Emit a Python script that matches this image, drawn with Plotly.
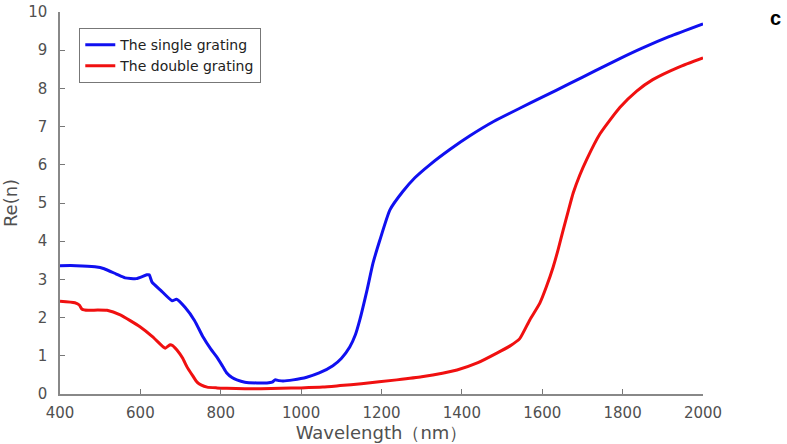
import plotly.graph_objects as go

# Wavelength samples (nm) and real part of the effective index for each structure
single_wl = [400, 440, 487, 510, 540, 562, 590, 616, 622, 629, 650, 679, 690, 711,
             735, 756, 775, 790, 805, 815, 828, 840, 860, 890, 915, 928, 935, 945,
             955, 980, 1014, 1045, 1079, 1100, 1121, 1135, 1146, 1164, 1179, 1196,
             1221, 1253, 1283, 1320, 1370, 1420, 1480, 1544, 1600, 1669, 1730,
             1793, 1850, 1917, 2000]
single_re = [3.36, 3.36, 3.33, 3.28, 3.14, 3.04, 3.02, 3.12, 3.12, 2.93, 2.72, 2.44,
             2.48, 2.27, 1.92, 1.49, 1.18, 0.97, 0.72, 0.55, 0.43, 0.37, 0.31, 0.29,
             0.29, 0.31, 0.37, 0.35, 0.34, 0.37, 0.44, 0.55, 0.74, 0.93, 1.23, 1.55,
             1.94, 2.72, 3.43, 4.03, 4.82, 5.3, 5.66, 6.0, 6.4, 6.76, 7.14, 7.48,
             7.77, 8.13, 8.45, 8.78, 9.06, 9.36, 9.69]

double_wl = [400, 437, 448, 455, 470, 494, 517, 550, 599, 630, 656, 662, 674, 680,
             691, 705, 716, 730, 741, 752, 766, 790, 815, 860, 900, 950, 1000, 1054,
             1097, 1150, 1238, 1300, 1388, 1440, 1487, 1520, 1544, 1569, 1594, 1610,
             1627, 1640, 1652, 1665, 1677, 1693, 1711, 1743, 1793, 1835, 1875,
             1940, 2000]
double_re = [2.43, 2.39, 2.33, 2.22, 2.19, 2.2, 2.19, 2.07, 1.76, 1.5, 1.24, 1.2,
             1.29, 1.27, 1.15, 0.94, 0.71, 0.48, 0.31, 0.23, 0.18, 0.16, 0.15, 0.14,
             0.14, 0.15, 0.16, 0.18, 0.22, 0.27, 0.37, 0.45, 0.63, 0.82, 1.07, 1.26,
             1.45, 1.94, 2.38, 2.8, 3.32, 3.8, 4.29, 4.8, 5.26, 5.72, 6.15, 6.8,
             7.5, 7.93, 8.23, 8.56, 8.8]

series_names = ["The single grating", "The double grating"]
series_colors = ["#1010f0", "#f01010"]

x_ticks = [400, 600, 800, 1000, 1200, 1400, 1600, 1800, 2000]
y_ticks = list(range(0, 11))

FONT = "DejaVu Sans, Liberation Sans, Arial, sans-serif"

fig = go.Figure()
for wl, re, name, color in [(single_wl, single_re, series_names[0], series_colors[0]),
                            (double_wl, double_re, series_names[1], series_colors[1])]:
    fig.add_trace(go.Scatter(
        x=wl, y=re, mode="lines", name=name,
        line=dict(color=color, width=3, shape="spline", smoothing=0.5),
    ))

axis_font = dict(family=FONT, size=15, color="#505050")

fig.update_layout(
    width=787, height=444,
    margin=dict(l=60, r=84, t=12, b=50, autoexpand=False),
    paper_bgcolor="white", plot_bgcolor="white",
    font=dict(family=FONT, color="#333333"),
    showlegend=True,
    legend=dict(
        x=0.03, y=0.958, xanchor="left", yanchor="top",
        bgcolor="white", bordercolor="#777777", borderwidth=1,
        font=dict(size=14, color="#222222"),
        tracegroupgap=0, itemwidth=30,
    ),
    xaxis=dict(
        range=[400, 2000], tickvals=x_ticks, ticks="inside", ticklen=5,
        tickcolor="#777777", showline=True, linecolor="#888888", linewidth=1.5,
        showgrid=False, zeroline=False, tickfont=axis_font, automargin=False,
        ticklabelstandoff=4,
        title=dict(text="Wavelength（nm）", font=dict(size=18, color="#505050"), standoff=2),
    ),
    yaxis=dict(
        range=[0, 10], tickvals=y_ticks, ticks="inside", ticklen=5,
        tickcolor="#777777", showline=True, linecolor="#888888", linewidth=1.5,
        showgrid=False, zeroline=False, tickfont=axis_font, automargin=False,
        ticklabelstandoff=8,
        title=dict(text="Re(n)", font=dict(size=18, color="#505050"), standoff=6),
    ),
    annotations=[dict(
        text="<b>c</b>", x=(775 - 60) / 643, y=(394 - 18) / 382,
        xref="paper", yref="paper", xanchor="center", yanchor="middle",
        showarrow=False, font=dict(size=20, color="black", family="Liberation Sans, Arial"),
    )],
)

fig.write_html("out.html")
